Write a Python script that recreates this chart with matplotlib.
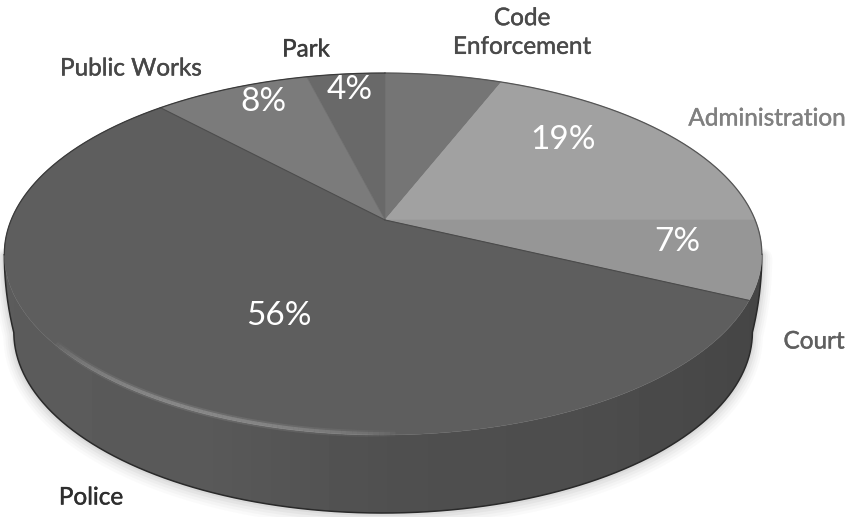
import numpy as np
import matplotlib
matplotlib.use("Agg")
import matplotlib.pyplot as plt
import matplotlib.patheffects as pe
from matplotlib.collections import LineCollection
from matplotlib.patches import Polygon

plt.rcParams['font.family'] = ['Lato', 'DejaVu Sans']

# Data, clockwise from the top
departments = ['Code\nEnforcement', 'Administration', 'Court', 'Police', 'Public Works', 'Park']
shares = [6, 19, 7, 56, 8, 4]
share_labels = ['', '19%', '7%', '56%', '8%', '4%']
slice_colors = ['#757575', '#a1a1a1', '#969696', '#5e5e5e', '#7b7b7b', '#696969']
label_colors = ['#4a4a4a', '#808080', '#5f5f5f', '#2e2e2e', '#474747', '#3c3c3c']

# Layout, in image pixels
label_pos = [(522, 33), (767, 119), (814, 342), (91, 498), (131, 69), (306, 50)]
share_pos = [None, (563, 140), (677, 242), (279, 316), (263, 102), (350, 90)]
cx, cy = 385, 220
a, b = 372, 174.6
k, m = 0.188, 0.005
depth = 78


def rim(theta, r=1.0):
    # perspective view of the pie disc, theta clockwise from the top
    u = r * np.sin(theta)
    v = r * np.cos(theta)
    w = 1 + k * v + m * u
    return cx + a * u / w, cy - b * v / w


fig = plt.figure(figsize=(8.49, 5.17), dpi=100)
ax = fig.add_axes([0, 0, 1, 1])
ax.set_xlim(0, 849)
ax.set_ylim(517, 0)
ax.axis('off')

t = np.linspace(0, 2 * np.pi, 721)
x, y = rim(t)
right = np.argmax(x)
left = np.argmin(x)

# the wall narrows a little on its way down, so the sides curve in
drop = np.linspace(0, 1, 40)
narrow = 1 - 0.025 * drop ** 2
right_x = cx + (x[right] - cx) * narrow
left_x = cx + (x[left] - cx) * narrow
right_y = y[right] + depth * drop
left_y = y[left] + depth * drop
base_x = cx + (x[right:left + 1] - cx) * narrow[-1]
base_y = y[right:left + 1] + depth

edge_x = np.r_[right_x, base_x, left_x[::-1]]
edge_y = np.r_[right_y, base_y, left_y[::-1]]

# soft shadow under the wall
for grow, alpha in zip([10, 8, 6, 4, 2], [0.03, 0.04, 0.05, 0.07, 0.09]):
    ax.plot(edge_x, edge_y + grow * 0.4, color='#777777', lw=grow * 1.5,
            alpha=alpha, zorder=1, solid_capstyle='round')

# side wall
wall = Polygon(np.c_[np.r_[edge_x, x[right:left + 1][::-1]], np.r_[edge_y, y[right:left + 1][::-1]]],
               closed=True, fc='none', ec='none', zorder=2)
ax.add_patch(wall)
ramp_x = np.linspace(0, 770, 200)
ramp = np.interp(ramp_x, [0, 200, 400, 600, 770], [0.36, 0.35, 0.31, 0.30, 0.27])
img = ax.imshow(ramp[None, :], cmap='gray', vmin=0, vmax=1, extent=(0, 770, 517, 200),
                aspect='auto', interpolation='bilinear', zorder=2)
img.set_clip_path(wall)
ax.set_xlim(0, 849)
ax.set_ylim(517, 0)
ax.plot(edge_x, edge_y, color='#2a2a2a', lw=1.1, zorder=3)

# top slices
edges = np.cumsum([0] + shares) / sum(shares) * 2 * np.pi
for start, stop, color in zip(edges[:-1], edges[1:], slice_colors):
    arc = np.linspace(start, stop, 120)
    sx, sy = rim(arc)
    ax.add_patch(Polygon(np.c_[np.r_[cx, sx], np.r_[cy, sy]], closed=True, fc=color, ec=color,
                         lw=0.4, zorder=4))

# dark line along the Police slice edges and the outer rim
police = 3
for edge in (edges[police], edges[police + 1]):
    ex, ey = rim(np.array([edge]))
    ax.plot([cx, ex[0]], [cy, ey[0]], color='#4a4a4a', lw=0.8, zorder=5)
ax.plot(x[:right + 1], y[:right + 1], color='#555555', lw=0.9, zorder=5)
ax.plot(x[left:], y[left:], color='#3a3a3a', lw=0.9, zorder=5)

# light bevel on the front rim of the Police slice
glow_t = np.linspace(np.radians(178), np.radians(232), 80)
gx, gy = rim(glow_t, 0.995)
pts = np.c_[gx, gy].reshape(-1, 1, 2)
segs = np.concatenate([pts[:-1], pts[1:]], axis=1)
fade = np.sin(np.linspace(0, np.pi, len(segs))) ** 0.6
for width, strength in [(5, 0.22), (2.5, 0.55)]:
    seg_colors = [(0.62, 0.62, 0.62, strength * f) for f in fade]
    ax.add_collection(LineCollection(segs, colors=seg_colors, linewidths=width, zorder=6))

# texts
for name, pos, color in zip(departments, label_pos, label_colors):
    ax.text(pos[0], pos[1], name, color=color, fontsize=17.5, ha='center', va='center',
            linespacing=1.45, zorder=8,
            path_effects=[pe.withStroke(linewidth=0.3, foreground=color)])
for txt, pos in zip(share_labels, share_pos):
    if pos is not None:
        ax.text(pos[0], pos[1], txt, color='white', fontsize=24, ha='center', va='center', zorder=8)

fig.savefig('out.png', dpi=100)
